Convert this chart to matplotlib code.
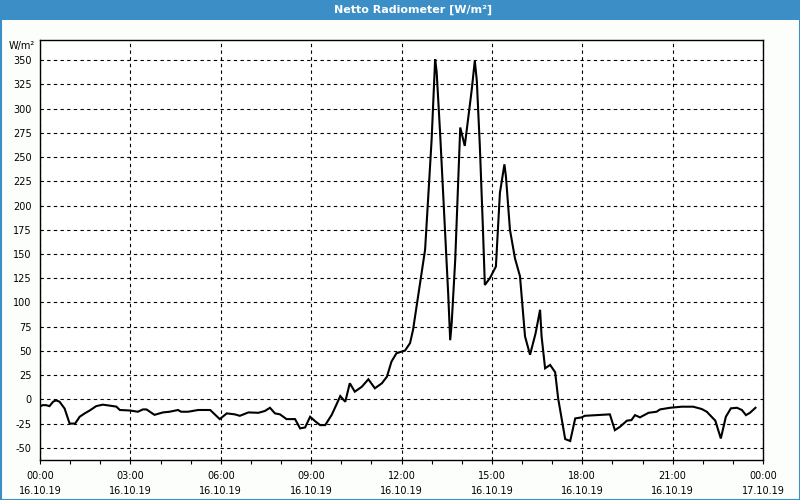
import matplotlib
matplotlib.use("Agg")
import matplotlib.pyplot as plt
from matplotlib.patches import Rectangle
from matplotlib.ticker import MultipleLocator

times = ["00:00","00:05","00:12","00:19","00:26","00:32","00:39","00:49","00:59","01:10",
         "01:19","01:29","01:39","01:52","02:05","02:19","02:32","02:39","02:59","03:15",
         "03:25","03:32","03:48","04:05","04:18","04:35","04:41","04:55","05:15","05:39",
         "05:58","06:12","06:28","06:38","06:55","07:15","07:28","07:38","07:48","07:58",
         "08:11","08:28","08:38","08:48","08:58","09:09","09:18","09:28","09:41","09:50",
         "09:58","10:08","10:17","10:27","10:41","10:54","11:07","11:21","11:31","11:40",
         "11:50","12:07","12:17","12:23","12:47","13:00","13:07","13:10","13:17","13:33",
         "13:37","13:40","13:47","13:57","14:06","14:20","14:26","14:30","14:36","14:42",
         "14:46","14:56","15:08","15:16","15:25","15:28","15:36","15:46","15:56","16:06",
         "16:16","16:27","16:36","16:39","16:46","16:56","17:06","17:12","17:26","17:36",
         "17:46","17:59","18:05","18:55","19:05","19:15","19:29","19:38","19:45","19:55",
         "20:12","20:28","20:35","20:55","21:18","21:41","21:58","22:08","22:25","22:36",
         "22:46","22:56","23:08","23:18","23:26","23:34","23:45"]
values = [-7.5,-6,-6,-7,-2.5,-1,-2.5,-9.5,-25,-25,
          -18,-14.5,-11.5,-7,-5.5,-6.5,-7.5,-11,-11.5,-12.8,
          -10.4,-10.4,-16,-13.5,-12.8,-11,-12.8,-12.8,-11,-11,
          -20.4,-14.5,-15.5,-17,-13.5,-13.9,-12,-8.7,-14.5,-15.5,
          -20.4,-20.4,-30,-29,-18,-23,-26.6,-26.6,-16,-5.9,
          3.4,-2.5,16.6,7.9,13,20.7,11.4,16.6,23.4,38.9,
          47.6,50.3,58,71.7,154.5,268,351,338,273.6,109,
          61,79,144,280.5,261.5,320,349.5,328.8,261.5,178.7,
          118,125,137,213,242.5,230,175,145.5,127,65,
          46,68,92.4,65,32,35.5,28,1,-41,-43,
          -19.7,-18.6,-17,-15.5,-31.8,-28.4,-22,-21.4,-16.3,-18.6,
          -13.9,-12.8,-10.4,-8.7,-7.6,-7.6,-10,-12.8,-22,-40.4,
          -18,-9.3,-8.7,-11,-16.3,-13.9,-8.7]

tick_hours = [0, 3, 6, 9, 12, 15, 18, 21, 24]
tick_labels = ["00:00\n16.10.19", "03:00\n16.10.19", "06:00\n16.10.19", "09:00\n16.10.19",
               "12:00\n16.10.19", "15:00\n16.10.19", "18:00\n16.10.19", "21:00\n16.10.19",
               "00:00\n17.10.19"]
y_ticks = list(range(-50, 351, 25))

title = "Netto Radiometer [W/m²]"
unit = "W/m²"

hours = [int(t[:2]) + int(t[3:]) / 60 for t in times]

plt.rcParams['font.family'] = ['DejaVu Sans']

fig = plt.figure(figsize=(8, 5), dpi=100, facecolor="#fcfefc")
blue = "#3c8fc6"

# title bar and border
fig.patches.append(Rectangle((0, 1 - 20 / 500), 1, 20 / 500, transform=fig.transFigure,
                             facecolor=blue, edgecolor="none", zorder=0))
fig.patches.append(Rectangle((0.5 / 800, 0.5 / 500), 799 / 800, 499 / 500, transform=fig.transFigure,
                             facecolor="none", edgecolor=blue, linewidth=1.5, zorder=0))
fig.text(413 / 800, 1 - 10 / 500, title, color="white", fontsize=8, fontweight="bold",
         ha="center", va="center")
fig.text(22 / 800, 1 - 46 / 500, unit, fontsize=7, ha="center", va="center")

ax = fig.add_axes([40 / 800, 40 / 500, 723 / 800, 420 / 500])
ax.set_facecolor("white")
ax.plot(hours, values, color="black", linewidth=1.5, solid_joinstyle="miter")

ax.set_xlim(0, 24)
ax.set_ylim(-62.6, 370.8)
ax.set_xticks(tick_hours)
ax.set_xticklabels(tick_labels, fontsize=7, linespacing=1.6)
ax.xaxis.set_minor_locator(MultipleLocator(1))
ax.set_yticks(y_ticks)
ax.set_yticklabels([str(v) for v in y_ticks], fontsize=7)

ax.tick_params(axis="x", which="both", length=3, width=0.8, direction="out", pad=5)
ax.tick_params(axis="y", which="both", length=0, pad=6)

ax.grid(True, which="major", color="black", linestyle=(0, (3, 3)), linewidth=0.8)
for s in ax.spines.values():
    s.set_color("black")
    s.set_linewidth(1.0)

fig.savefig("out.png", dpi=100, facecolor=fig.get_facecolor())
